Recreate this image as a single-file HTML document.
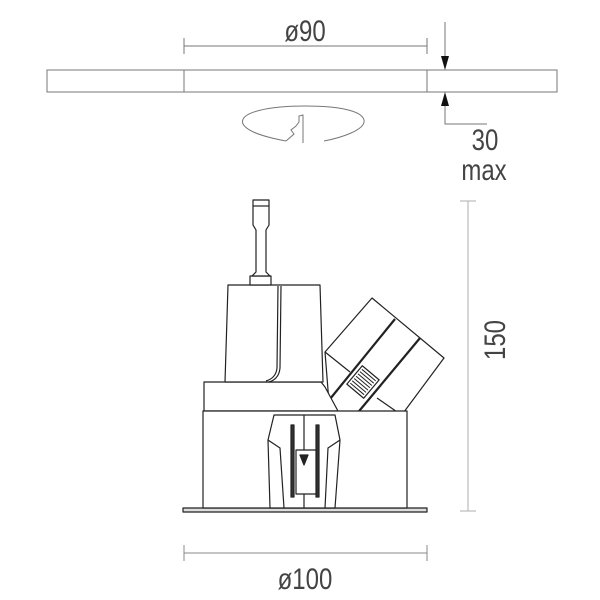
<!DOCTYPE html>
<html><head><style>
html,body{margin:0;padding:0;background:#fff;width:600px;height:600px;overflow:hidden}
svg{display:block}
text{font-family:"Liberation Sans",sans-serif;fill:#444}
</style></head><body>
<svg width="600" height="600" viewBox="0 0 600 600" xmlns="http://www.w3.org/2000/svg">
<g stroke="#777" stroke-width="1" fill="none">
<rect x="47" y="70" width="510" height="22"/>
<line x1="184" y1="70" x2="184" y2="92"/>
<line x1="427" y1="70" x2="427" y2="92"/>
<line x1="184" y1="46" x2="427" y2="46"/>
<line x1="184" y1="38" x2="184" y2="54"/>
<line x1="427" y1="38" x2="427" y2="54"/>
<line x1="445" y1="22" x2="445" y2="60"/>
<polyline points="445,100 445,124 487,124"/>
<path d="M286 141 C270 138 248 133 243 124 C238 112 270 106 305 106 C340 106 362 111 364 120 C366 130 340 138 324 141"/>
<polyline points="286,141 294,134 291,130 296,126 299,122 299,116 303,115 303,143"/>
</g>
<polygon points="441,56 449,56 445,70" fill="#111"/>
<polygon points="441,106 449,106 445,92" fill="#111"/>
<text x="0" y="0" font-size="30" text-anchor="middle" transform="translate(305 41) scale(0.8 1)">ø90</text>
<text x="0" y="0" font-size="30" text-anchor="middle" transform="translate(485 150) scale(0.8 1)">30</text>
<text x="0" y="0" font-size="30" text-anchor="middle" transform="translate(484 180) scale(0.8 1)">max</text>
<g stroke="#bbb" stroke-width="1.2">
<line x1="468" y1="201" x2="468" y2="511"/>
<line x1="460" y1="201" x2="476" y2="201"/>
<line x1="460" y1="511" x2="476" y2="511"/>
</g>
<text x="0" y="0" font-size="30" text-anchor="middle" transform="translate(505 340) rotate(-90) scale(0.8 1)">150</text>
<g stroke="#888" stroke-width="1">
<line x1="184" y1="553" x2="427" y2="553"/>
<line x1="184" y1="545" x2="184" y2="561"/>
<line x1="427" y1="545" x2="427" y2="561"/>
</g>
<text x="0" y="0" font-size="30" text-anchor="middle" transform="translate(305 589) scale(0.8 1)">ø100</text>
<g stroke="#222" stroke-width="1.2" fill="#fff" stroke-linejoin="round">
<!-- head -->
<polygon points="325,352 372,298 444,358 398,420 330,415"/>
<line x1="395" y1="319" x2="330" y2="399" stroke-width="2.2"/>
<line x1="420" y1="338" x2="355" y2="416" stroke-width="2.2"/>
<line x1="325" y1="352" x2="350" y2="372"/>
<line x1="377" y1="398" x2="400" y2="414"/>
<g transform="translate(363 382) rotate(40)">
<rect x="-11" y="-12" width="22" height="24" fill="#fff"/>
<path d="M-9 -9H9M-9 -6H9M-9 -3H9M-9 0H9M-9 3H9M-9 6H9M-9 9H9" stroke-width="1"/>
</g>
<!-- collar -->
<polygon points="204,382 321,382 325,387 338,411 204,411"/>
<rect x="183" y="508" width="244" height="4" fill="#ddd"/>
<rect x="203" y="411" width="204" height="97"/>
<polygon points="228,285 320,285 323,382 225,382"/>
<path d="M278 286 L277 368 Q276 378 266 381" fill="none"/>
<path d="M281 286 L280 368 Q279 379 269 382" fill="none"/>
<rect x="250" y="276" width="21" height="9"/>
<path d="M253 200 L269 200 L269 225 L266 230 L266 272 L270 276 L252 276 L256 272 L256 230 L253 225 Z"/>
<line x1="253" y1="206" x2="269" y2="206"/>
<path d="M274 415 L335 415 L340 440 L335 508 L270 508 L268 440 Z"/>
<polyline points="268,440 280,448 284,508" fill="none"/>
<polyline points="340,440 328,448 325,508" fill="none"/>
<line x1="304" y1="415" x2="304" y2="508"/>
<rect x="291" y="425" width="3" height="72" fill="#333"/>
<rect x="316" y="425" width="3" height="72" fill="#333"/>
<rect x="296" y="450" width="20" height="44"/>
<polygon points="300,455 308,455 304,465" fill="#222"/>
</g>
</svg>
</body></html>
